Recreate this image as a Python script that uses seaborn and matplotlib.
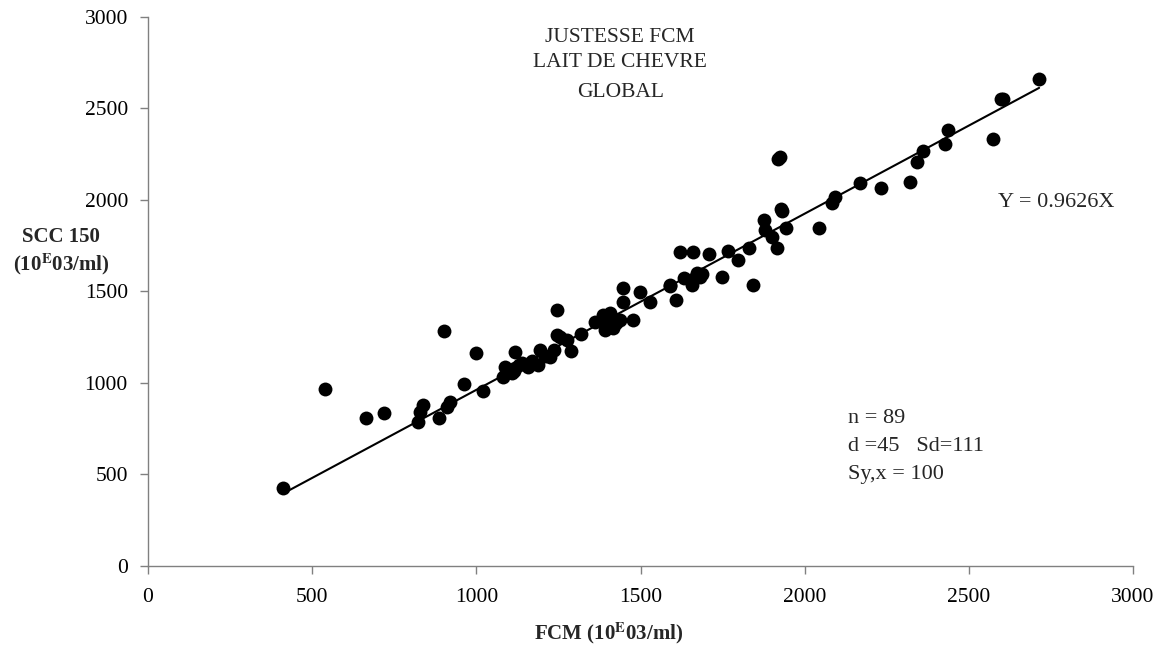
import pandas as pd
import matplotlib
matplotlib.use("Agg")
import matplotlib.pyplot as plt
import seaborn as sns

# FCM vs SCC 150 readings (10^3 cells/ml)
fcm = [412, 539, 663, 720, 823, 839, 828, 886, 920, 910, 963, 999, 1021, 900,
       1082, 1087, 1118, 1118, 1108, 1158, 1194, 1189, 1224, 1235, 1245, 1245,
       1275, 1287, 1319, 1362, 1387, 1407, 1392, 1417, 1438, 1397, 1448, 1448,
       1478, 1499, 1529, 1590, 1608, 1631, 1656, 1620, 1661, 1671,
       1925, 2341, 2169, 2232, 2321, 2093, 2083, 1928, 1875, 1880, 1900, 1915,
       1943, 2044, 1831, 1796, 1765, 1710, 1749, 1842, 1686,
       2714, 2598, 2436, 2575, 2427, 2360,
       1100, 1130, 1140, 1170, 1210, 1405, 1425, 1655, 1680, 1932, 2605, 1920,
       1115, 1255, 1590]
scc = [425, 967, 810, 838, 789, 880, 843, 807, 898, 870, 993, 1162, 956, 1285,
       1035, 1089, 1171, 1080, 1053, 1089, 1180, 1098, 1144, 1180, 1399, 1262,
       1235, 1175, 1266, 1335, 1372, 1381, 1290, 1299, 1344, 1335, 1517, 1444,
       1344, 1499, 1444, 1536, 1454, 1572, 1536, 1717, 1717, 1599,
       2237, 2209, 2095, 2067, 2097, 2018, 1982, 1951, 1891, 1836, 1796, 1740,
       1845, 1845, 1740, 1672, 1721, 1703, 1581, 1536, 1596,
       2661, 2552, 2383, 2332, 2306, 2268,
       1070, 1100, 1110, 1120, 1150, 1360, 1330, 1560, 1580, 1940, 2550, 2225,
       1065, 1250, 1530]

slope = 0.9626
title_lines = ["JUSTESSE FCM", "LAIT DE CHEVRE", "GLOBAL"]
stats_lines = ["n = 89", "d =45   Sd=111", "Sy,x = 100"]
ticks = [0, 500, 1000, 1500, 2000, 2500, 3000]

df = pd.DataFrame({"fcm": fcm, "scc": scc})
line = pd.DataFrame({"x": [min(fcm), max(fcm)]})
line["y"] = slope * line["x"]

sns.set_theme(style="white")
plt.rcParams["font.family"] = ["Liberation Serif", "DejaVu Serif"]
plt.rcParams["mathtext.fontset"] = "stix"

fig = plt.figure(figsize=(11.61, 6.52), dpi=100)
ax = fig.add_axes([0.1275, 0.1319, 0.8484, 0.8421])

sns.scatterplot(data=df, x="fcm", y="scc", ax=ax, color="black", s=100,
                edgecolor="black", linewidth=0, zorder=3)
sns.lineplot(data=line, x="x", y="y", ax=ax, color="black", linewidth=1.5)

ax.set_xlim(0, 3000)
ax.set_ylim(0, 3000)
ax.set_xticks(ticks)
ax.set_yticks(ticks)
ax.tick_params(axis="both", direction="out", length=6, width=1,
               color="#808080", labelsize=15.5, labelcolor="black",
               bottom=True, left=True)
ax.tick_params(axis="y", pad=8.5)
ax.tick_params(axis="x", pad=9.5)
for side in ["top", "right"]:
    ax.spines[side].set_visible(False)
for side in ["left", "bottom"]:
    ax.spines[side].set_color("#808080")
    ax.spines[side].set_linewidth(1)

ax.set_xlabel("")
ax.set_ylabel("")
fig.text(0.524, 0.028, r"FCM (10$^{\mathbf{E}}$03/ml)", ha="center",
         va="center", fontsize=15, fontweight="bold")
fig.text(0.0525, 0.6135, "SCC 150\n" + r"(10$^{\mathbf{E}}$03/ml)",
         ha="center", va="center", fontsize=15, fontweight="bold")

# title block, one line per text, baselines in data units
for txt, yb in zip(title_lines, [2863, 2727, 2563]):
    ax.text(1438, yb, txt, ha="center", va="baseline", fontsize=15.5)

ax.text(2589, 1962, "Y = 0.9626X", ha="left", va="baseline", fontsize=16)
for txt, yb in zip(stats_lines, [781, 628, 475]):
    ax.text(2132, yb, txt, ha="left", va="baseline", fontsize=16)

fig.savefig("out.png", dpi=100)
